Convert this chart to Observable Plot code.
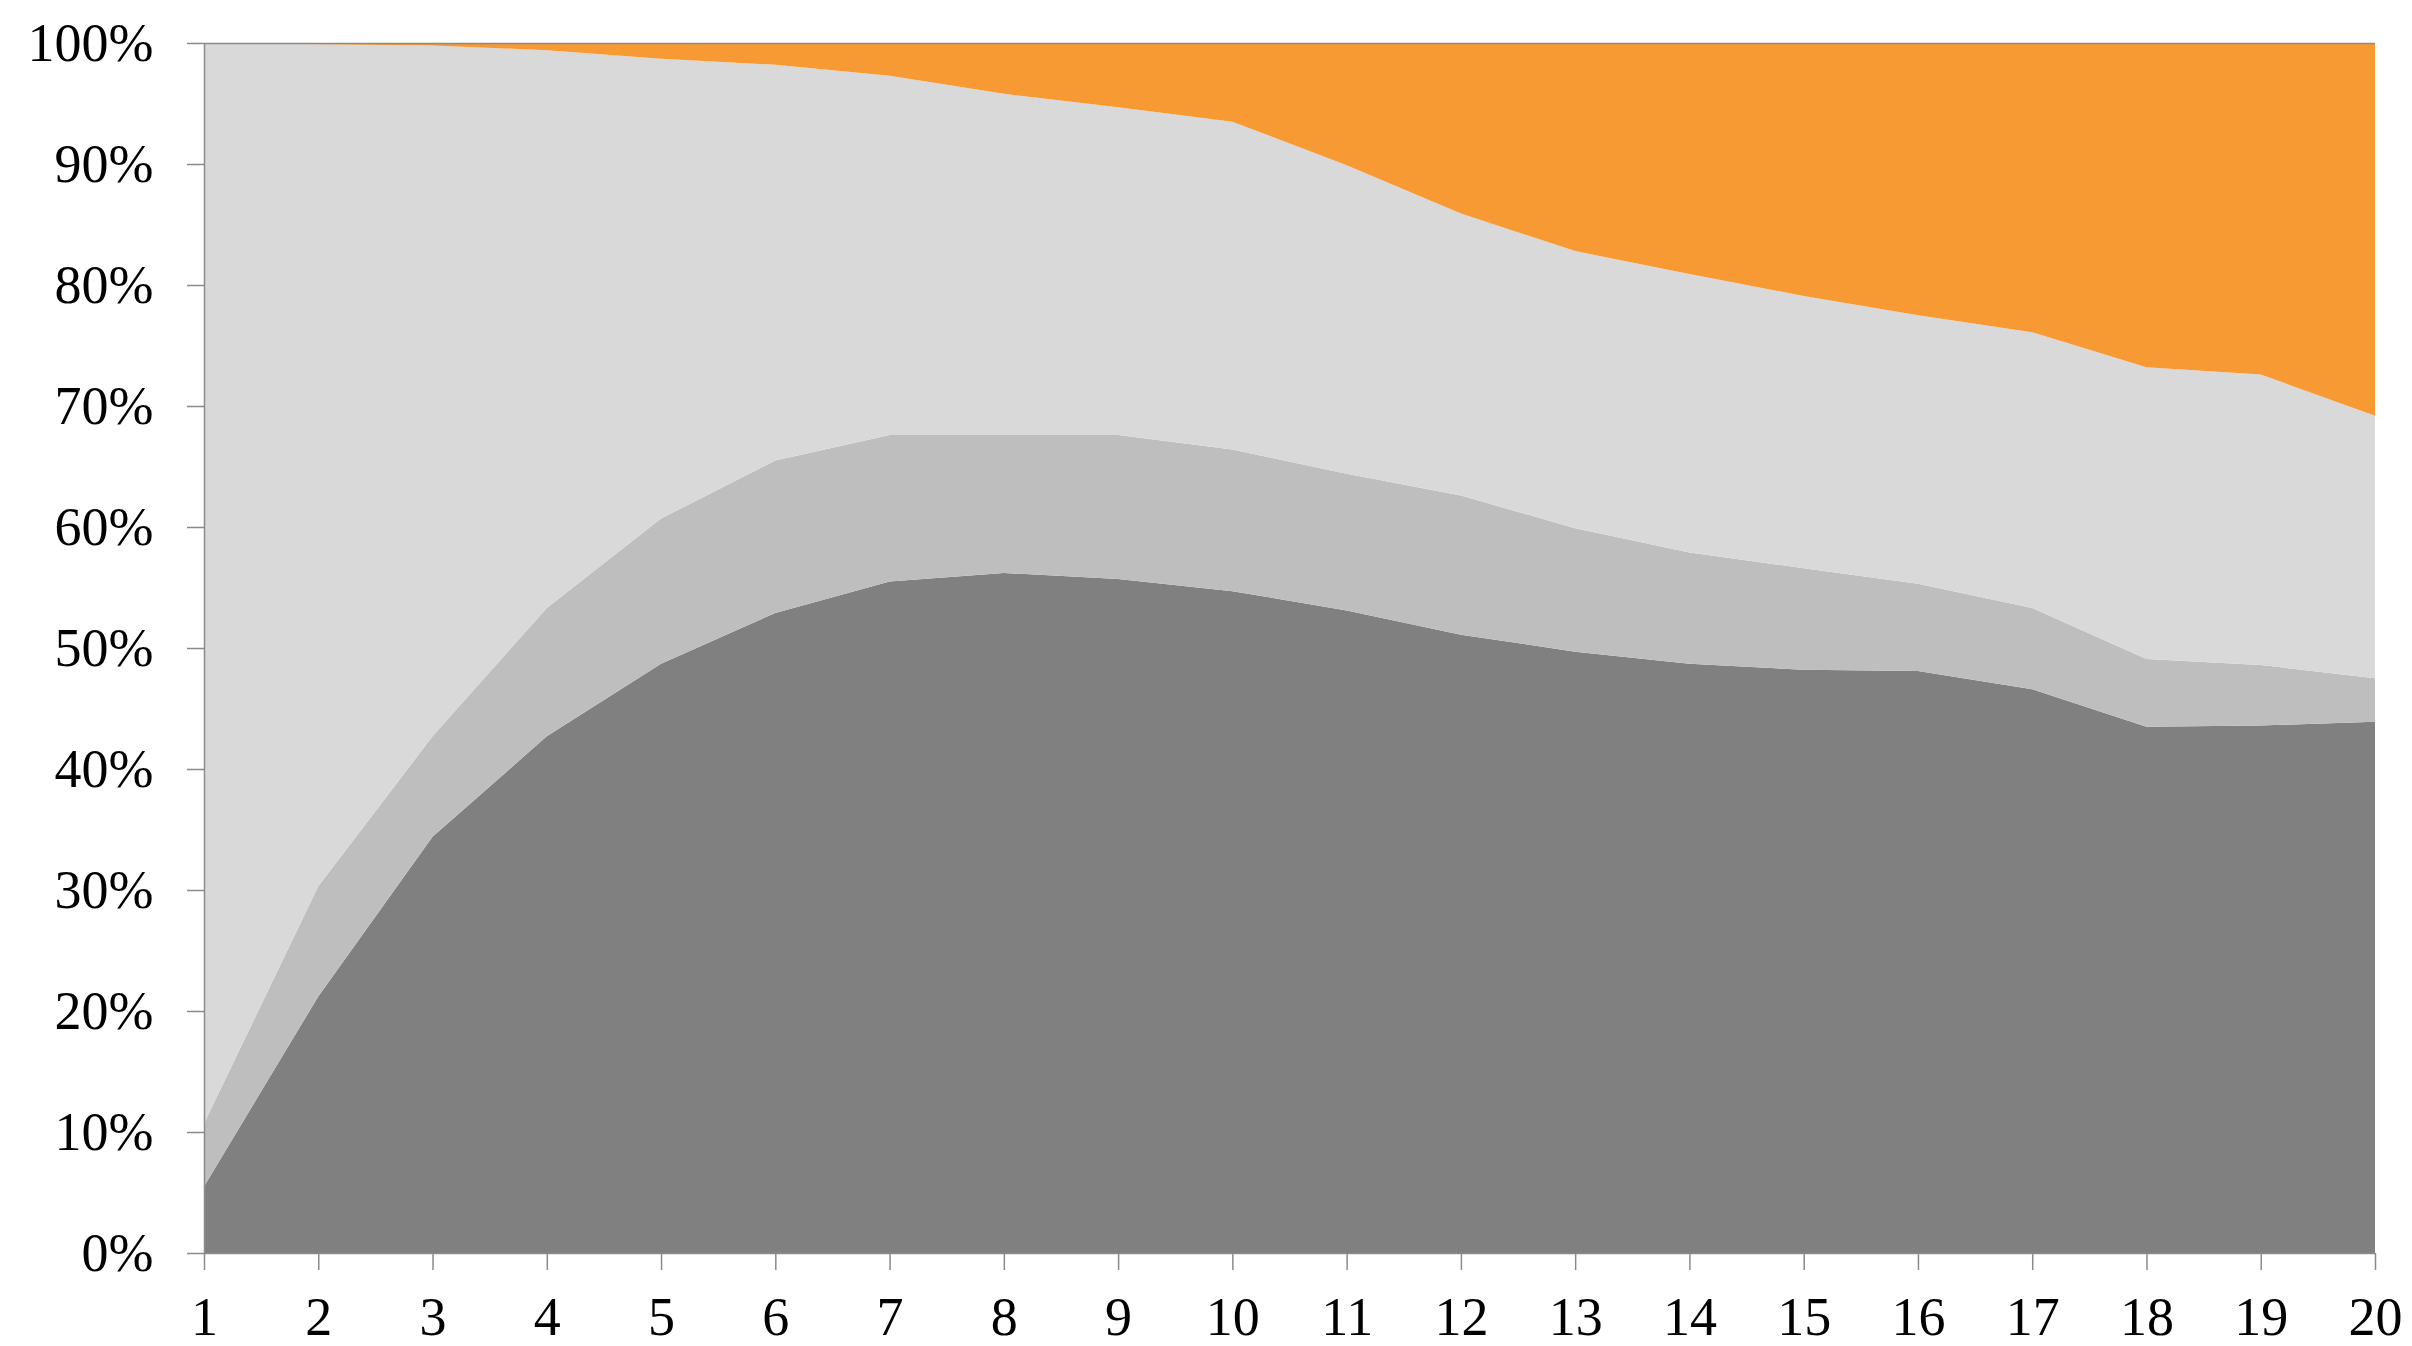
<!DOCTYPE html>
<html>
<head>
<meta charset="utf-8">
<script src="https://cdn.jsdelivr.net/npm/d3@7"></script>
<script src="https://cdn.jsdelivr.net/npm/@observablehq/plot@0.6"></script>
<style>
  html, body { margin: 0; padding: 0; background: #fff; }
  #chart svg { display: block; }
</style>
</head>
<body>
<div id="chart"></div>
<script>
// Categories (x positions 1..20)
const periods = [1,2,3,4,5,6,7,8,9,10,11,12,13,14,15,16,17,18,19,20];

// Series shares in percent (stacked bottom to top)
const seriesDark   = [5.5,21.2,34.4,42.7,48.7,52.9,55.5,56.2,55.7,54.7,53.1,51.1,49.7,48.7,48.2,48.1,46.6,43.5,43.6,43.9];
const seriesMedium = [5.2,9.1,8.3,10.6,12.0,12.6,12.1,11.4,11.9,11.7,11.3,11.5,10.2,9.2,8.4,7.2,6.7,5.6,5.0,3.6];
const seriesLight  = [89.3,69.6,57.1,46.1,38.0,32.7,29.7,28.2,27.1,27.1,25.5,23.3,22.9,23.0,22.5,22.2,22.8,24.1,24.0,21.7];
const seriesOrange = [0.0,0.1,0.2,0.6,1.3,1.8,2.7,4.2,5.3,6.5,10.1,14.1,17.2,19.1,20.9,22.5,23.9,26.8,27.4,30.8];

const seriesNames  = ["A", "B", "C", "D"];
const seriesColors = ["#808080", "#bebebe", "#d9d9d9", "#f79a34"];

// Tick labels
const yTicks = [0,10,20,30,40,50,60,70,80,90,100];
const xTicks = periods;

const allSeries = [seriesDark, seriesMedium, seriesLight, seriesOrange];
const rows = [];
seriesNames.forEach((name, si) => {
  periods.forEach((p, i) => rows.push({period: p, series: name, value: allSeries[si][i]}));
});

const axisColor = "#8a8a8a";

const chart = Plot.plot({
  width: 2412,
  height: 1346,
  marginLeft: 204,
  marginRight: 37,
  marginTop: 43,
  marginBottom: 93,
  style: {fontFamily: "'Liberation Serif', 'DejaVu Serif', serif", fontSize: "54px", color: "#000", background: "#fff"},
  x: {domain: [1, 20], ticks: xTicks},
  y: {domain: [0, 100], ticks: yTicks},
  color: {domain: seriesNames, range: seriesColors},
  marks: [
    Plot.areaY(rows, {x: "period", y: "value", fill: "series", order: seriesNames}),
    Plot.ruleY([100], {stroke: axisColor, strokeWidth: 1.5}),
    Plot.axisY({ticks: yTicks, tickFormat: d => d + "%", tickSize: 17, tickPadding: 34, stroke: axisColor, strokeWidth: 1.5, label: null, fill: "#000"}),
    Plot.axisX({ticks: xTicks, tickFormat: d => String(d), tickSize: 17, tickPadding: 26, stroke: axisColor, strokeWidth: 1.5, label: null, fill: "#000"}),
    Plot.ruleX([1], {stroke: axisColor, strokeWidth: 1.5}),
    Plot.ruleY([0], {stroke: axisColor, strokeWidth: 1.5})
  ]
});
document.getElementById("chart").appendChild(chart);
</script>
</body>
</html>
